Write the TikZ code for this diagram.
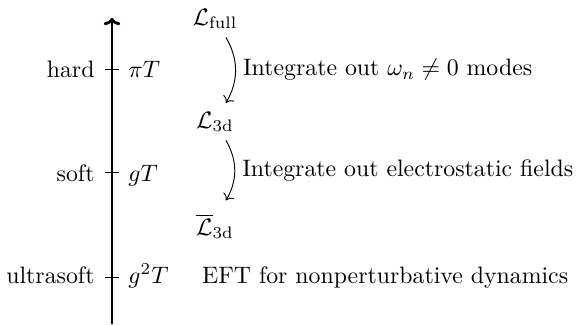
\documentclass[tikz,border=0pt]{standalone}
\usetikzlibrary{arrows.meta}
\begin{document}
\begin{tikzpicture}[x=0.4202pt,y=-0.4202pt,
  axisline/.style={line width=1.2pt,-{To[length=3pt,width=7pt]}},
  tick/.style={line width=0.4pt},
  leftlab/.style={anchor=base east,inner sep=0pt},
  rightlab/.style={anchor=base west,inner sep=0pt},
  lag/.style={anchor=base,inner sep=3.5pt},
  flow/.style={-{To},line width=0.4pt},
  flowlab/.style={anchor=west,inner sep=3pt}]
\useasboundingbox (0,0) rectangle (582,324);
% axis
\coordinate (axbot) at (112,324);
\coordinate (axtop) at (112,18);
\draw[axisline] (axbot) -- (axtop);
% ticks
\foreach \n/\y in {h/69.5,s/172.7,u/277}{
  \coordinate (t\n l) at (105,\y);
  \coordinate (t\n r) at (119,\y);
  \draw[tick] (t\n l) -- (t\n r);
}
% scale labels
\node[leftlab] (hard) at (95,77.5) {hard};
\node[leftlab] (soft) at (95,181) {soft};
\node[leftlab] (usoft) at (95,283) {ultrasoft};
\node[rightlab] (piT) at (128,77.5) {$\pi T$};
\node[rightlab] (gT) at (128,181) {$gT$};
\node[rightlab] (g2T) at (128,283) {$g^2T$};
% Lagrangians
\node[lag] (Lfull) at (215,25) {$\mathcal{L}_{\mathrm{full}}$};
\node[lag] (L3d) at (215,128) {$\mathcal{L}_{\mathrm{3d}}$};
\node[lag] (L3dbar) at (215,235) {$\overline{\mathcal{L}}_{\mathrm{3d}}$};
\node[rightlab] (eft) at (201.7,283) {EFT for nonperturbative dynamics};
% arrows
\draw[flow] ([xshift=4.6pt]Lfull.south) to[bend left=30]
  node[flowlab] (lab1) {Integrate out $\omega_n\neq 0$ modes}
  ([xshift=4.6pt]L3d.north);
\draw[flow] ([xshift=4.6pt]L3d.south) to[bend left=30]
  node[flowlab] (lab2) {Integrate out electrostatic fields}
  ([xshift=4.6pt,yshift=2pt]L3dbar.north);
\end{tikzpicture}
\end{document}
